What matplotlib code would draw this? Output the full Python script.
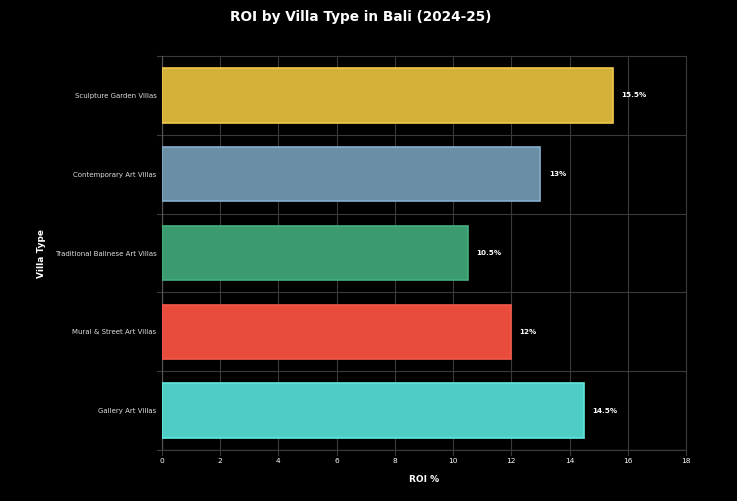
import matplotlib.pyplot as plt
import numpy as np

# data
villa_types = ["Sculpture Garden Villas", "Contemporary Art Villas",
               "Traditional Balinese Art Villas", "Mural & Street Art Villas",
               "Gallery Art Villas"]
roi = [15.5, 13, 10.5, 12, 14.5]
roi_labels = ["15.5%", "13%", "10.5%", "12%", "14.5%"]
fill_colors = ["#D4B23A", "#6A8FA5", "#3C9A70", "#E74C3C", "#4ECDC4"]
edge_colors = ["#F1C74A", "#86AECB", "#45B07F", "#F5584A", "#60E8DD"]
x_ticks = [0, 2, 4, 6, 8, 10, 12, 14, 16, 18]

fig = plt.figure(figsize=(7.37, 5.01), dpi=100, facecolor="black")
ax = fig.add_axes([162 / 737, 1 - 450 / 501, (686 - 162) / 737, (450 - 56) / 501])
ax.set_facecolor("black")

y = np.arange(len(villa_types))
ax.barh(y, roi, height=0.69, color=fill_colors, edgecolor=edge_colors,
        linewidth=1.2, zorder=3)

for yi, v, lab in zip(y, roi, roi_labels):
    ax.annotate(lab, (v, yi), xytext=(6, 0), textcoords="offset points",
                ha="left", va="center", color="white", fontsize=5.2,
                fontweight="bold", zorder=4)

ax.set_xlim(0, 18)
ax.set_ylim(len(villa_types) - 0.5, -0.5)
ax.set_xticks(x_ticks)
ax.set_xticklabels([str(t) for t in x_ticks], color="white", fontsize=5.3)
ax.set_yticks(y)
ax.set_yticklabels(villa_types, color="#dddddd", fontsize=5.0)
ax.tick_params(axis="y", length=0, pad=4)
ax.tick_params(axis="x", length=0, pad=6)

# grid: vertical at ticks, horizontal at category boundaries
for t in x_ticks:
    ax.plot([t, t], [len(villa_types) - 0.5 + 0.06, -0.5], color="#3a3a3a",
            linewidth=0.8, zorder=1, clip_on=False)
for b in np.arange(-0.5, len(villa_types), 1.0):
    ax.plot([-0.17, 18], [b, b], color="#3a3a3a", linewidth=0.8,
            zorder=1, clip_on=False)

for s in ax.spines.values():
    s.set_visible(False)
ax.plot([0, 0], [-0.5, len(villa_types) - 0.5], color="#555555",
        linewidth=0.9, zorder=2)
ax.plot([0, 18], [len(villa_types) - 0.5] * 2, color="#555555",
        linewidth=0.9, zorder=2)

ax.set_xlabel("ROI %", color="white", fontsize=6.5, fontweight="bold")
ax.set_ylabel("Villa Type", color="white", fontsize=6.5, fontweight="bold")
ax.xaxis.set_label_coords(0.5, -0.0635)
ax.yaxis.set_label_coords(-0.222, 0.5)

fig.text(361 / 737, 1 - 17 / 501, "ROI by Villa Type in Bali (2024-25)", ha="center",
         va="center", color="white", fontsize=9.8, fontweight="bold")

fig.savefig("out.png", dpi=100, facecolor="black")
